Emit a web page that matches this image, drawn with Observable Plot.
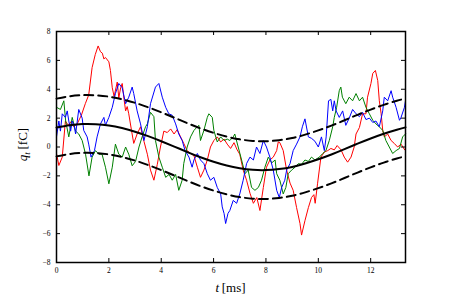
<!DOCTYPE html>
<html><head><meta charset="utf-8">
<script src="https://cdn.jsdelivr.net/npm/d3@7"></script>
<script src="https://cdn.jsdelivr.net/npm/@observablehq/plot@0.6"></script>
<style>
body{margin:0;background:#fff}
</style>
</head><body><div id="chart"></div>
<script>
// ---- data ----
const redT = [0.00,0.09,0.22,0.34,0.45,0.55,0.66,0.79,0.95,1.10,1.23,1.36,1.48,1.59,1.68,1.75,1.81,1.87,2.00,2.06,2.13,2.20,2.32,2.38,2.45,2.51,2.58,2.64,2.70,2.76,2.86,2.95,3.08,3.21,3.34,3.47,3.59,3.72,3.85,3.97,4.10,4.23,4.36,4.49,4.61,4.74,4.86,4.99,5.12,5.25,5.38,5.50,5.63,5.76,5.88,6.01,6.14,6.27,6.40,6.52,6.65,6.78,6.90,7.00,7.13,7.26,7.39,7.52,7.65,7.77,7.90,8.02,8.15,8.28,8.41,8.47,8.53,8.66,8.79,8.92,9.04,9.17,9.30,9.36,9.49,9.62,9.74,9.83,9.88,9.97,10.10,10.23,10.36,10.48,10.61,10.72,10.87,10.99,11.12,11.25,11.37,11.44,11.57,11.69,11.82,11.88,12.01,12.08,12.18,12.27,12.33,12.40,12.46,12.52,12.65,12.78,12.90,13.03,13.16,13.30];
const redV = [-0.45,-1.28,-0.70,1.80,1.50,1.75,1.40,1.60,2.20,3.00,3.60,5.50,6.40,7.00,6.60,6.50,6.10,6.20,5.90,5.30,4.10,3.50,4.50,3.40,4.10,4.40,3.30,2.50,2.80,2.30,1.20,0.25,0.90,1.40,0.40,-0.50,-1.60,-2.30,-1.20,0.00,1.10,1.00,1.25,0.90,1.20,0.70,0.25,-0.25,-0.45,-0.60,-1.40,-2.10,-1.60,-0.90,0.00,0.45,0.70,0.35,0.55,0.20,-0.10,0.30,-0.20,-0.50,-1.60,-2.30,-3.20,-3.90,-3.50,-4.40,-2.80,-1.40,-0.90,-0.70,-0.25,0.35,0.30,-0.25,-1.60,-2.50,-3.00,-4.20,-5.30,-6.10,-5.10,-4.20,-3.50,-3.30,-3.90,-2.55,-0.70,-0.35,-0.25,-0.10,-0.20,0.10,-0.20,-0.70,-1.05,-0.70,0.00,0.90,1.35,2.30,2.30,3.45,4.40,5.10,5.30,4.60,3.20,2.30,1.15,0.70,0.90,0.45,0.25,0.00,0.20,-0.20];

const greenT = [0.00,0.15,0.28,0.35,0.47,0.60,0.73,0.85,0.98,1.11,1.24,1.36,1.49,1.62,1.74,1.87,2.00,2.13,2.25,2.38,2.51,2.64,2.76,2.89,3.02,3.15,3.27,3.40,3.47,3.59,3.72,3.78,3.91,4.04,4.17,4.30,4.42,4.55,4.67,4.80,4.86,4.99,5.12,5.25,5.38,5.44,5.50,5.63,5.76,5.82,5.95,6.01,6.14,6.27,6.40,6.52,6.62,6.75,6.81,6.94,7.07,7.20,7.32,7.45,7.58,7.71,7.83,7.96,8.09,8.22,8.35,8.41,8.53,8.66,8.76,8.85,8.98,9.11,9.24,9.36,9.49,9.62,9.74,9.87,10.04,10.17,10.29,10.42,10.55,10.61,10.70,10.80,10.86,10.92,11.05,11.18,11.31,11.44,11.57,11.69,11.82,11.95,12.08,12.20,12.33,12.46,12.58,12.71,12.84,12.97,13.10,13.22,13.33];
const greenV = [2.75,2.60,3.20,1.80,0.70,2.05,1.10,0.90,0.45,-0.50,-2.00,-0.70,-0.25,-0.50,-0.50,-1.40,-2.55,-1.40,0.20,-0.50,-0.70,0.00,-0.50,-1.30,-1.00,0.00,0.70,1.40,1.60,2.40,2.10,0.45,-0.70,-1.40,-2.10,-1.90,-2.30,-1.90,-3.00,-2.30,-1.15,0.00,0.70,1.15,1.40,1.50,0.45,1.15,2.05,2.30,2.05,1.15,0.35,0.70,0.45,0.55,0.45,0.70,0.90,0.00,-0.90,-1.85,-1.60,-2.80,-3.00,-2.80,-2.30,-1.40,-0.70,-1.10,-0.90,-1.85,-2.30,-3.25,-2.80,-1.85,-1.60,-1.40,-1.15,-1.20,-0.90,-1.00,-0.70,-0.90,-0.70,-0.45,-0.25,0.45,1.40,2.05,2.75,3.90,4.15,3.45,3.00,3.45,3.20,3.70,3.20,3.45,2.75,2.30,1.85,1.60,1.40,1.15,0.45,0.00,-0.45,-0.25,-0.10,0.70,0.90];

const blueT = [0.00,0.09,0.15,0.22,0.34,0.41,0.47,0.54,0.60,0.67,0.73,0.85,0.98,1.04,1.17,1.23,1.32,1.45,1.55,1.68,1.81,1.87,2.00,2.13,2.25,2.38,2.51,2.64,2.76,2.89,2.95,3.08,3.21,3.34,3.47,3.59,3.78,3.91,4.04,4.17,4.29,4.42,4.55,4.67,4.80,4.91,5.06,5.18,5.25,5.38,5.50,5.63,5.76,5.88,6.01,6.14,6.27,6.33,6.40,6.46,6.55,6.62,6.75,6.88,7.00,7.13,7.26,7.39,7.52,7.64,7.77,7.90,8.02,8.15,8.28,8.41,8.51,8.60,8.72,8.79,8.92,9.04,9.17,9.30,9.39,9.49,9.62,9.74,9.87,10.00,10.12,10.23,10.30,10.39,10.48,10.55,10.61,10.68,10.80,10.93,11.05,11.18,11.31,11.44,11.57,11.69,11.82,11.95,12.08,12.20,12.33,12.46,12.52,12.65,12.78,12.84,12.97,13.10,13.16,13.29,13.33];
const blueV = [0.70,1.80,1.10,2.30,2.05,2.50,1.80,1.10,1.80,1.50,0.90,2.60,2.00,1.15,0.70,0.20,-0.70,-0.25,0.70,1.60,2.05,1.50,2.05,2.75,3.70,4.40,4.10,3.00,3.45,4.15,3.70,2.50,1.60,0.45,1.40,3.00,4.15,4.40,3.45,2.75,2.30,2.20,1.60,0.90,0.45,-0.25,-0.70,-1.40,-0.90,-0.45,-0.90,-1.15,-1.85,-2.30,-2.10,-2.80,-3.25,-4.15,-4.60,-5.30,-4.60,-4.40,-3.70,-3.90,-3.25,-2.30,-1.15,-0.70,-0.90,0.00,-0.45,0.45,0.00,-0.70,-1.60,-3.00,-3.50,-2.80,-2.30,-1.60,-1.15,-0.25,0.20,0.70,1.40,1.95,0.70,0.60,0.40,0.00,0.70,-0.25,0.70,3.20,3.30,2.50,3.20,2.50,2.05,2.50,1.50,2.00,2.60,2.30,2.10,2.40,1.90,2.00,1.70,1.80,1.40,2.50,3.45,3.20,3.90,3.45,2.75,1.85,2.05,2.75,3.20];

const meanT = [0,0.5,1,1.5,2,2.5,3,3.5,4,4.5,5,5.5,6,6.5,7,7.5,8,8.5,9,9.5,10,10.5,11,11.5,12,12.5,13,13.33];
const meanV = [1.35,1.51,1.59,1.58,1.49,1.31,1.06,0.75,0.40,0.03,-0.35,-0.71,-1.02,-1.28,-1.47,-1.58,-1.60,-1.53,-1.38,-1.14,-0.85,-0.52,-0.15,0.23,0.59,0.92,1.20,1.36];
const bandHalfWidth = 2;

const xTicks = [0,2,4,6,8,10,12];
const yTicks = [-8,-6,-4,-2,0,2,4,6,8];
const xDomain = [0, 13.33];
const yDomain = [-8, 8];

// ---- build tables ----
const zip = (T, V) => T.map((t, i) => ({t, v: V[i]}));
const red = zip(redT, redV), green = zip(greenT, greenV), blue = zip(blueT, blueV), mean = zip(meanT, meanV);

const W = 450, H = 300, mL = 56, mR = 45, mT = 31, mB = 38;
const innerW = W - mL - mR, innerH = H - mT - mB;
const tickLen = 4;
const fmt = d => d < 0 ? "\u2212" + (-d) : String(d);

const svg = Plot.plot({
  width: W, height: H,
  marginLeft: mL, marginRight: mR, marginTop: mT, marginBottom: mB,
  style: {fontFamily: "'Liberation Serif', serif", fontSize: "7.5px", background: "white", color: "black"},
  x: {domain: xDomain},
  y: {domain: yDomain},
  marks: [
    Plot.line(red,   {x: "t", y: "v", stroke: "#ff0000", strokeWidth: 1}),
    Plot.line(green, {x: "t", y: "v", stroke: "#008000", strokeWidth: 1}),
    Plot.line(blue,  {x: "t", y: "v", stroke: "#0000ff", strokeWidth: 1}),
    Plot.line(mean, {x: "t", y: "v", stroke: "black", strokeWidth: 2, curve: "natural"}),
    Plot.line(mean, {x: "t", y: d => d.v + bandHalfWidth, stroke: "black", strokeWidth: 2, strokeDasharray: "9,5", curve: "natural"}),
    Plot.line(mean, {x: "t", y: d => d.v - bandHalfWidth, stroke: "black", strokeWidth: 2, strokeDasharray: "9,5", curve: "natural"}),
    Plot.frame({stroke: "black", strokeWidth: 1.5}),
    Plot.ruleX(xTicks, {x: d => d, insetTop: innerH - tickLen, stroke: "black", strokeWidth: 1}),
    Plot.ruleX(xTicks, {x: d => d, insetBottom: innerH - tickLen, stroke: "black", strokeWidth: 1}),
    Plot.ruleY(yTicks, {y: d => d, insetRight: innerW - tickLen, stroke: "black", strokeWidth: 1}),
    Plot.ruleY(yTicks, {y: d => d, insetLeft: innerW - tickLen, stroke: "black", strokeWidth: 1}),
    Plot.axisX(xTicks, {tickSize: 0, tickPadding: 5, tickFormat: fmt, label: null}),
    Plot.axisY(yTicks, {tickSize: 0, tickPadding: 6, tickFormat: fmt, label: null})
  ]
});

const s = d3.select(svg);
// y label: q_t [fC]
const yl = s.append("text")
  .attr("transform", `translate(27,${mT + innerH / 2 - 2}) rotate(-90)`)
  .attr("text-anchor", "middle")
  .attr("font-family", "'Liberation Serif', serif")
  .attr("font-size", 13)
  .attr("fill", "black");
yl.append("tspan").attr("font-style", "italic").text("q");
yl.append("tspan").attr("font-style", "italic").attr("font-size", 9).attr("dy", 2.5).text("t");
yl.append("tspan").attr("dy", -2.5).text("\u2009[fC]");

// x label: t [ms]
const xl = s.append("text")
  .attr("x", mL + innerW / 2).attr("y", 292)
  .attr("text-anchor", "middle")
  .attr("font-family", "'Liberation Serif', serif")
  .attr("font-size", 13)
  .attr("fill", "black");
xl.append("tspan").attr("font-style", "italic").text("t");
xl.append("tspan").text("\u2009[ms]");

document.getElementById("chart").appendChild(svg);
</script>
</body></html>
